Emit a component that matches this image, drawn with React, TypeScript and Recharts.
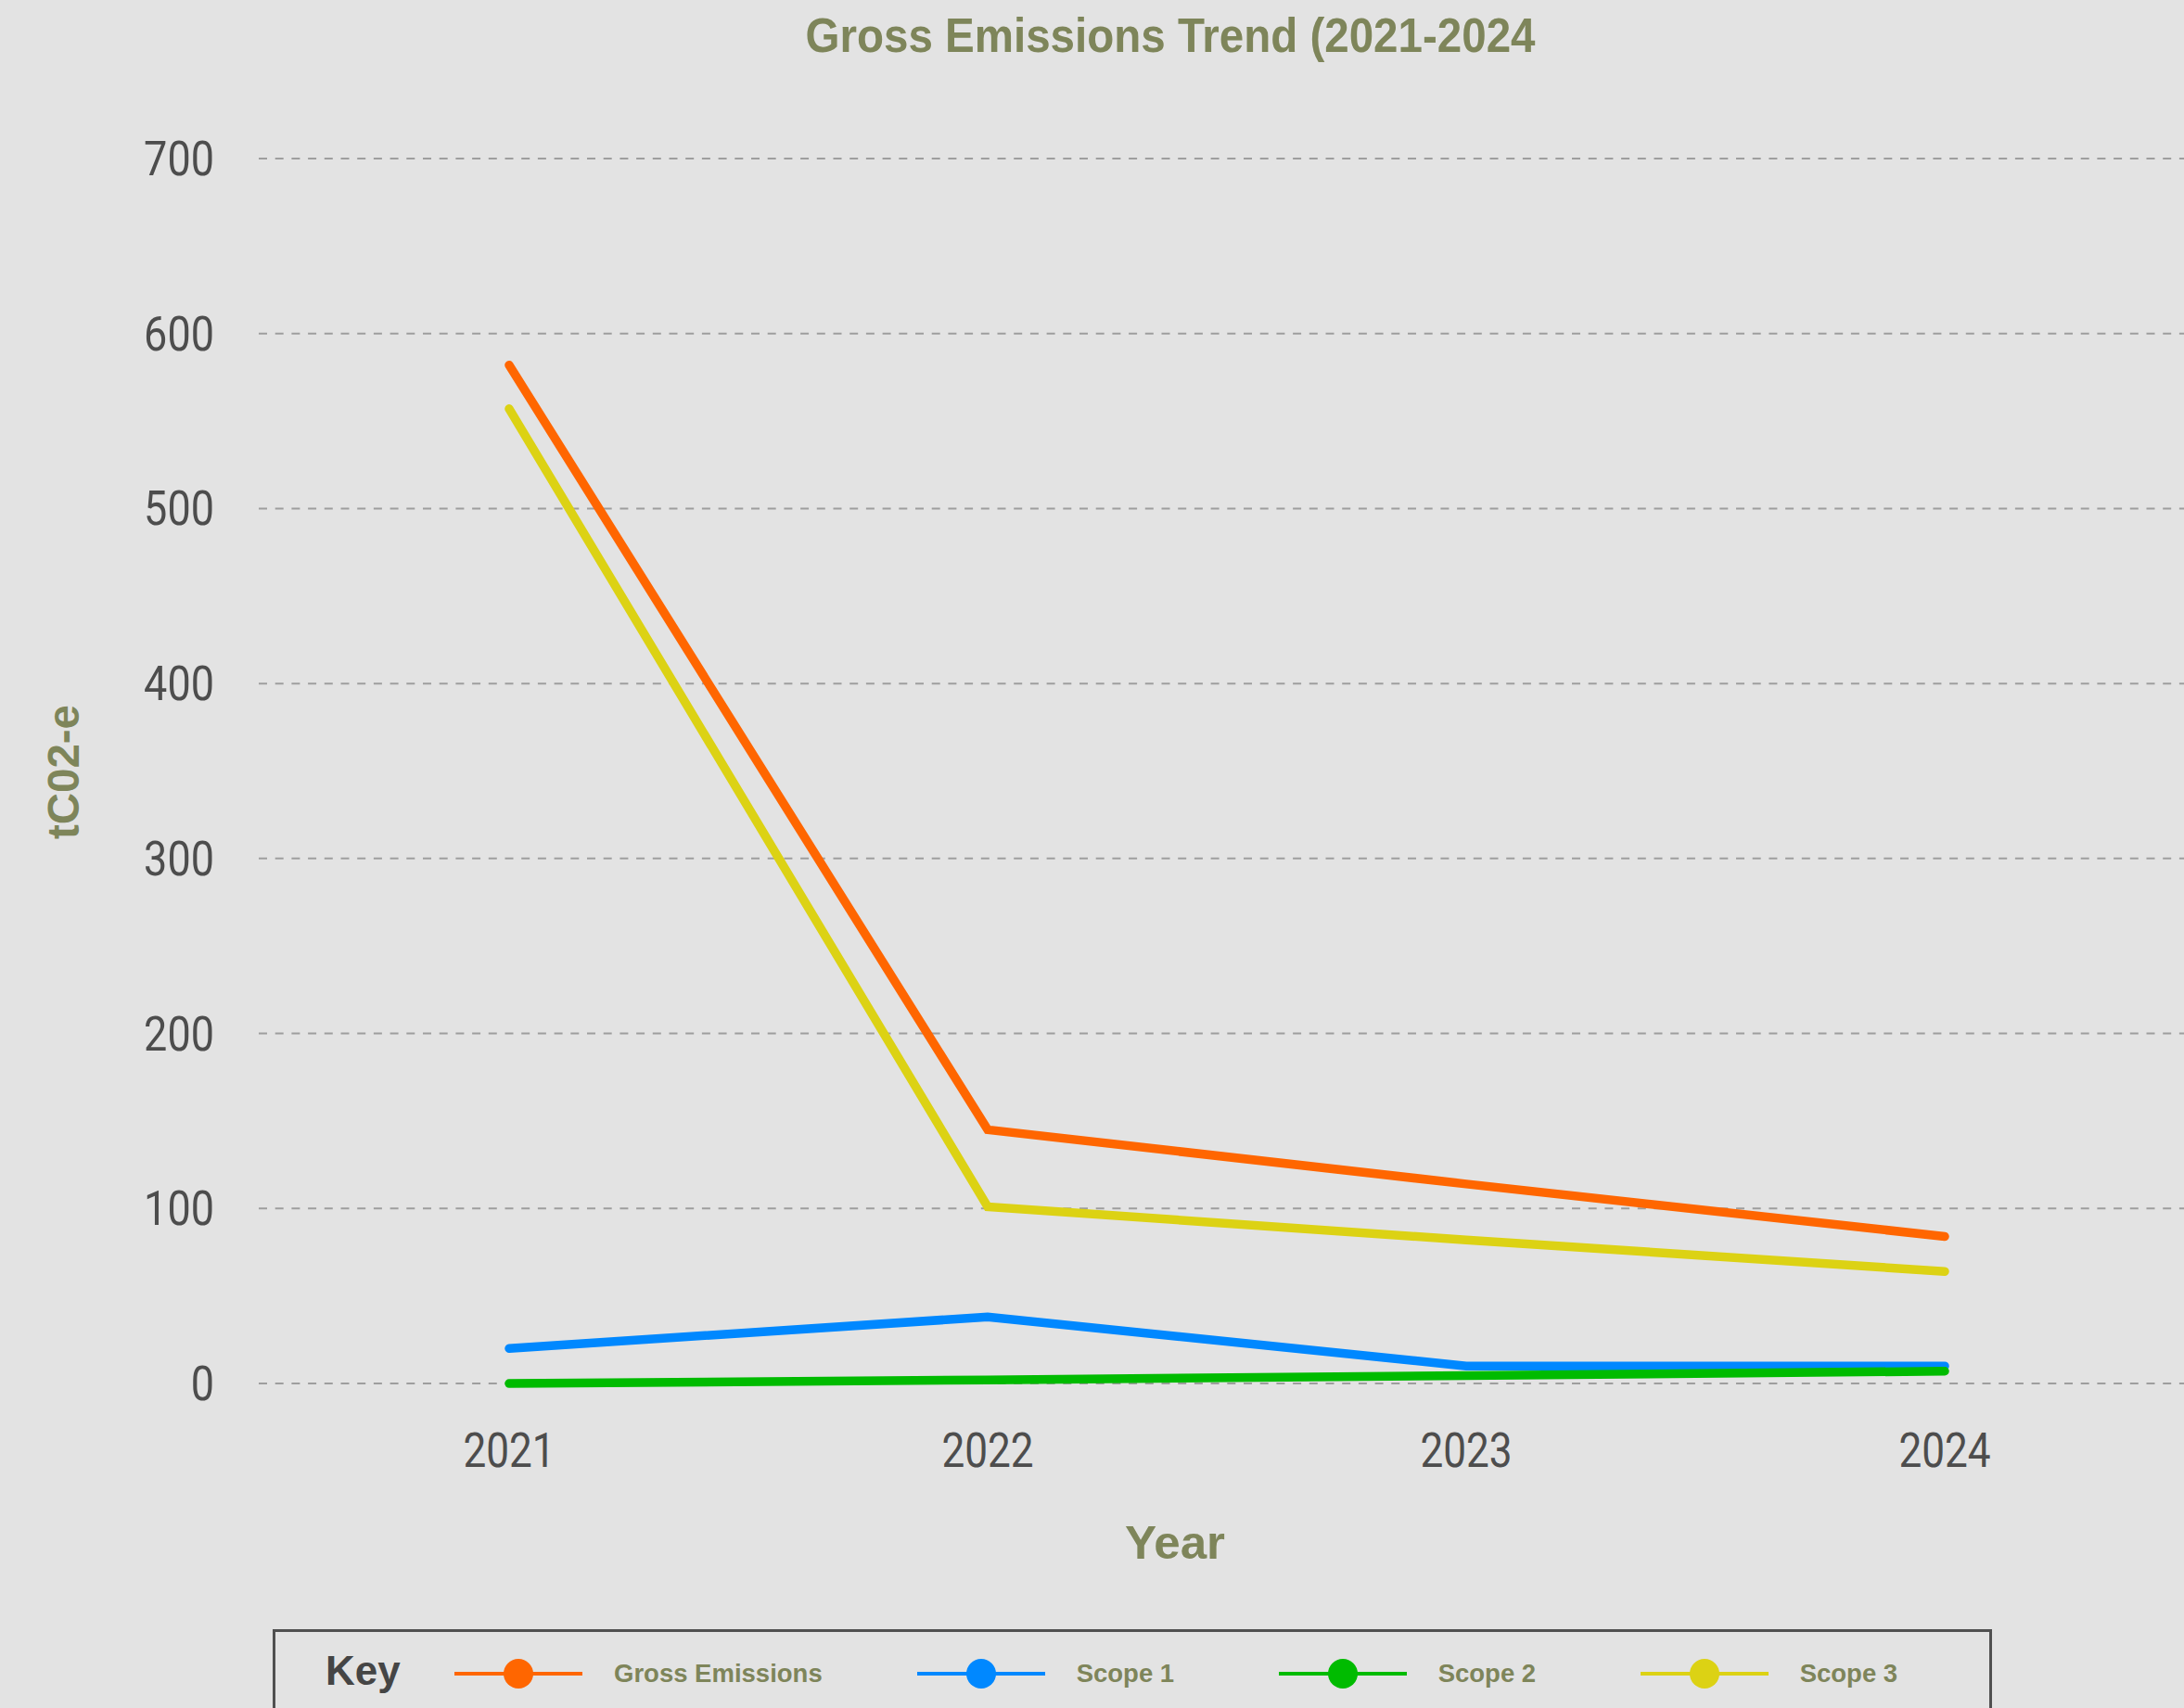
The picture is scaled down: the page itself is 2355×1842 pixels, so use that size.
import React from 'react';
import { LineChart, Line, XAxis, YAxis, CartesianGrid, Legend, Label } from 'recharts';

const years = ['2021', '2022', '2023', '2024'];
const grossEmissions = [582, 145, 114, 84];
const scope1 = [20, 38, 10, 10];
const scope2 = [0, 2, 4.5, 7];
const scope3 = [557, 101, 82, 64];
const yTicks = [0, 100, 200, 300, 400, 500, 600, 700];
const chartTitle = 'Gross Emissions Trend (2021-2024';
const xAxisTitle = 'Year';
const yAxisTitle = 'tC02-e';
const legendTitle = 'Key';

const data = years.map((year, i) => ({
  year,
  gross: grossEmissions[i],
  s1: scope1[i],
  s2: scope2[i],
  s3: scope3[i],
}));

const W = 2355;
const H = 1842;
const BG = '#e3e3e3';
const OLIVE = '#7e855a';
const TICK = '#4d4d4d';

const YTick = (props: any) => {
  const { x, y, payload } = props;
  const s = String(payload.value);
  return (
    <text x={x} y={y} dy={18} textAnchor="end" fill={TICK} fontFamily="Roboto" fontSize={52}
      textLength={s.length * 25.3} lengthAdjust="spacingAndGlyphs">{s}</text>
  );
};

const XTick = (props: any) => {
  const { x, y, payload } = props;
  const s = String(payload.value);
  return (
    <text x={x} y={y} dy={90} textAnchor="middle" fill={TICK} fontFamily="Roboto" fontSize={52}
      textLength={s.length * 24.8} lengthAdjust="spacingAndGlyphs">{s}</text>
  );
};

const YLabel = (props: any) => {
  const vb = props.viewBox || { x: 0, y: 171, width: 279, height: 1321 };
  const cx = vb.x + 85;
  const cy = vb.y + vb.height / 2 + 1;
  return (
    <text x={cx} y={cy} transform={`rotate(-90 ${cx} ${cy})`} textAnchor="middle" fill={OLIVE}
      fontFamily="Liberation Sans" fontWeight="bold" fontSize={48}
      textLength={145} lengthAdjust="spacingAndGlyphs">{yAxisTitle}</text>
  );
};

const XLabel = (props: any) => {
  const vb = props.viewBox || { x: 279, y: 1492, width: 2076, height: 350 };
  return (
    <text x={vb.x + 988} y={vb.y + 189} textAnchor="middle" fill={OLIVE}
      fontFamily="Liberation Sans" fontWeight="bold" fontSize={50}
      textLength={108} lengthAdjust="spacingAndGlyphs">{xAxisTitle}</text>
  );
};

const renderLegend = (props: any) => {
  const payload = props.payload || [];
  return (
    <div style={{
      width: 1854, height: 140, boxSizing: 'border-box', border: '3px solid #505050', borderBottom: 'none',
      overflow: 'hidden',
    }}>
      <div style={{ display: 'flex', alignItems: 'center', height: 40, marginTop: 25, paddingLeft: 54, whiteSpace: 'nowrap' }}>
        <span style={{ flexShrink: 0, fontFamily: 'Liberation Sans', fontWeight: 'bold', fontSize: 44, lineHeight: '44px', color: '#454545', width: 82, marginRight: 57, marginTop: -6 }}>{legendTitle}</span>
        {payload.map((entry: any) => (
          <div key={entry.value} style={{ flexShrink: 0, display: 'flex', alignItems: 'center', marginRight: 102 }}>
            <svg width={138} height={36} style={{ display: 'block', flexShrink: 0 }}>
              <line x1={0} y1={18} x2={138} y2={18} stroke={entry.color} strokeWidth={4} />
              <circle cx={69} cy={18} r={16} fill={entry.color} />
            </svg>
            <span style={{ flexShrink: 0, marginLeft: 34, minWidth: 116, whiteSpace: 'nowrap', fontFamily: 'Liberation Sans', fontWeight: 'bold', fontSize: 27.5, lineHeight: '28px', color: OLIVE }}>{entry.value}</span>
          </div>
        ))}
      </div>
    </div>
  );
};

export default function App() {
  return (
    <div style={{ position: 'fixed', left: 0, top: 0, width: W, height: H, background: BG, overflow: 'hidden' }}>
      <LineChart width={W} height={H} data={data} margin={{ top: 171, right: 0, bottom: 0, left: 0 }}>
        <CartesianGrid vertical={false} stroke="#9e9e9e" strokeWidth={2} strokeDasharray="9 8.7" />
        <XAxis dataKey="year" type="category" scale="point" padding={{ left: 270, right: 258 }}
          axisLine={false} tickLine={false} tickSize={0} tickMargin={0} height={350} tick={<XTick />}
          interval={0}>
          <Label content={<XLabel />} />
        </XAxis>
        <YAxis type="number" domain={[0, 700]} ticks={yTicks} width={279} axisLine={false} tickLine={false}
          tickSize={0} tickMargin={48} tick={<YTick />} interval={0}>
          <Label content={<YLabel />} />
        </YAxis>
        <Legend layout="vertical" align="center" verticalAlign="middle" content={renderLegend}
          wrapperStyle={{ left: 294, top: 1757, width: 1854, height: 140 }} />
        <Line dataKey="gross" name="Gross Emissions" stroke="#ff6600" strokeWidth={9.5} strokeLinecap="round" dot={false} activeDot={false} isAnimationActive={false} />
        <Line dataKey="s1" name="Scope 1" stroke="#0088ff" strokeWidth={9.5} strokeLinecap="round" dot={false} activeDot={false} isAnimationActive={false} />
        <Line dataKey="s2" name="Scope 2" stroke="#00bb00" strokeWidth={9.5} strokeLinecap="round" dot={false} activeDot={false} isAnimationActive={false} />
        <Line dataKey="s3" name="Scope 3" stroke="#dcd214" strokeWidth={9.5} strokeLinecap="round" dot={false} activeDot={false} isAnimationActive={false} />
      </LineChart>
      <svg width={W} height={100} style={{ position: 'absolute', left: 0, top: 0, pointerEvents: 'none' }}>
        <text x={1262} y={56} textAnchor="middle" fill={OLIVE} fontFamily="Liberation Sans" fontWeight="bold"
          fontSize={52} textLength={787} lengthAdjust="spacingAndGlyphs">{chartTitle}</text>
      </svg>
    </div>
  );
}
